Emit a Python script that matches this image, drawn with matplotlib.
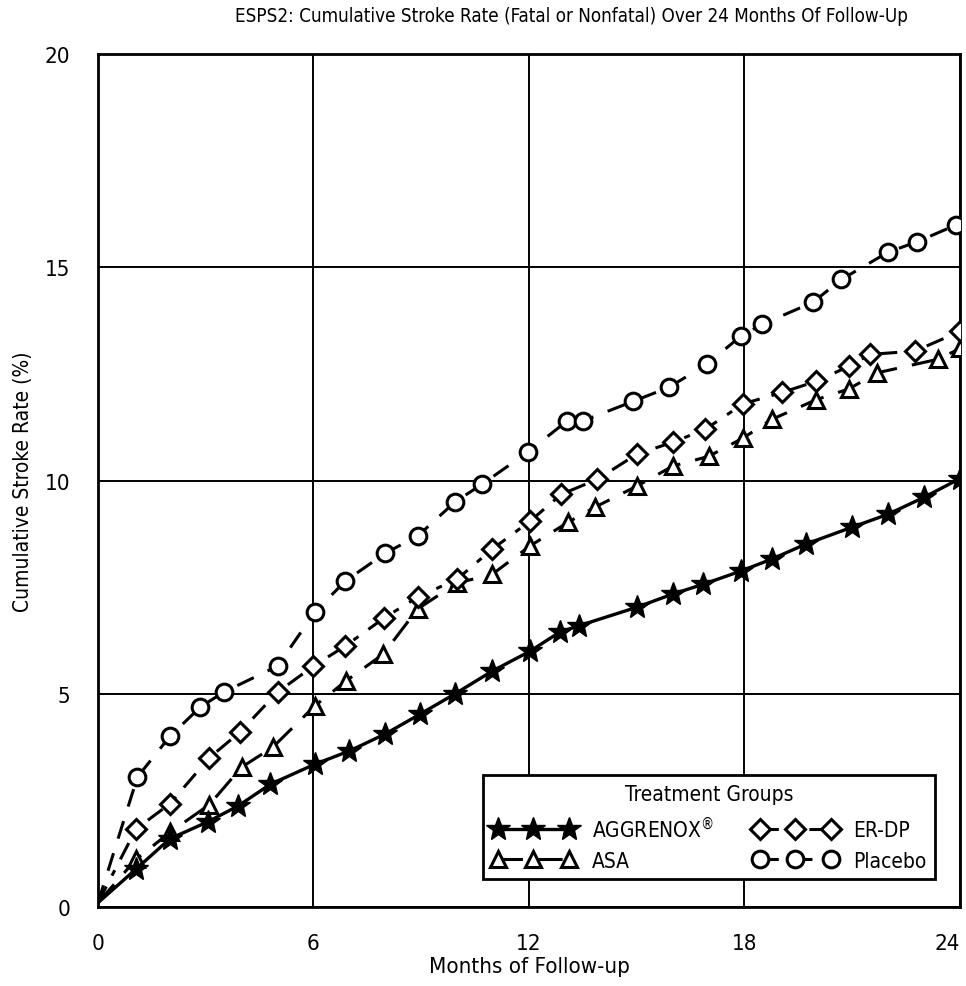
import matplotlib.pyplot as plt
from matplotlib import font_manager

# condensed sans, close to the scanned narrow font
cond = [f for f in font_manager.fontManager.ttflist
        if f.name == 'DejaVu Sans' and f.stretch == 'condensed']
plt.rcParams['font.family'] = ['DejaVu Sans']
if cond:
    plt.rcParams['font.stretch'] = 'condensed'

# data (months, cumulative %)
aggr_x = [0, 1.06, 2.0, 3.06, 3.9, 4.8, 6.04, 7.0, 8.0, 8.96, 9.94, 10.97, 12.03, 12.86, 13.4, 15.0, 16.0, 16.85, 17.9, 18.76, 19.7, 21.0, 21.99, 23.0, 24.0]
aggr_y = [0.1, 0.89, 1.6, 2.0, 2.37, 2.88, 3.35, 3.66, 4.06, 4.52, 5.0, 5.53, 6.0, 6.45, 6.6, 7.03, 7.34, 7.57, 7.88, 8.16, 8.51, 8.91, 9.21, 9.61, 10.05]

asa_x = [0, 1.06, 2.0, 3.1, 4.0, 4.87, 6.04, 6.9, 7.94, 8.9, 10.0, 10.97, 12.03, 13.1, 13.84, 15.0, 16.0, 17.0, 17.96, 18.77, 20.0, 20.9, 21.7, 23.4, 24.0]
asa_y = [0.1, 1.12, 1.75, 2.4, 3.28, 3.75, 4.72, 5.3, 5.93, 6.99, 7.6, 7.8, 8.47, 9.03, 9.38, 9.87, 10.34, 10.57, 11.0, 11.44, 11.9, 12.15, 12.53, 12.85, 13.1]

erdp_x = [0, 1.06, 2.0, 3.1, 3.95, 5.0, 6.0, 6.88, 7.97, 8.9, 10.0, 10.97, 12.03, 12.9, 13.9, 15.0, 16.0, 16.9, 17.96, 19.05, 20.0, 20.9, 21.5, 22.75, 24.0]
erdp_y = [0.1, 1.83, 2.42, 3.5, 4.1, 5.04, 5.65, 6.12, 6.78, 7.27, 7.69, 8.39, 9.05, 9.68, 10.03, 10.62, 10.9, 11.2, 11.8, 12.07, 12.33, 12.68, 12.96, 13.04, 13.5]

plac_x = [0, 1.1, 2.0, 2.85, 3.5, 5.0, 6.04, 6.88, 8.0, 8.9, 9.94, 10.7, 11.97, 13.06, 13.5, 14.9, 15.9, 16.95, 17.9, 18.5, 19.9, 20.7, 22.0, 22.8, 23.9]
plac_y = [0.1, 3.05, 4.0, 4.69, 5.04, 5.65, 6.92, 7.64, 8.3, 8.7, 9.5, 9.92, 10.67, 11.4, 11.4, 11.86, 12.19, 12.73, 13.39, 13.67, 14.18, 14.72, 15.36, 15.6, 16.0]

fig = plt.figure(figsize=(9.66, 9.87), dpi=100)
ax = fig.add_axes([0.1014, 0.080, 0.8924, 0.864])

skip = list(range(1, 25))
ax.plot(aggr_x, aggr_y, color='black', lw=2.4, ls='-', marker='*', ms=18,
        mfc='black', mec='black', markevery=skip, label='AGGRENOX$^{\\circledR}$', zorder=5)
ax.plot(asa_x, asa_y, color='black', lw=2.2, ls=(0, (8, 5)), marker='^', ms=11,
        mfc='white', mec='black', mew=2.2, markevery=skip, label='ASA', zorder=4)
ax.plot(erdp_x, erdp_y, color='black', lw=2.2, ls=(0, (6, 4, 2, 4)), marker='D', ms=10,
        mfc='white', mec='black', mew=2.2, markevery=skip, label='ER-DP', zorder=4)
ax.plot(plac_x, plac_y, color='black', lw=2.2, ls=(0, (6, 5)), marker='o', ms=12,
        mfc='white', mec='black', mew=2.2, markevery=skip, label='Placebo', zorder=4)

ax.set_xlim(0, 24)
ax.set_ylim(0, 20)
ax.set_xticks([0, 6, 12, 18, 24])
ax.set_yticks([0, 5, 10, 15, 20])
ax.grid(True, color='black', lw=1.4)
ax.set_axisbelow(True)
ax.tick_params(length=0, labelsize=16, pad=20)
ax.tick_params(axis='x', pad=19)
ax.get_xticklabels()[-1].set_horizontalalignment('right')
for s in ax.spines.values():
    s.set_linewidth(2)

ax.set_xlabel('Months of Follow-up', fontsize=16, labelpad=2)
ax.set_ylabel('Cumulative Stroke Rate (%)', fontsize=15, labelpad=8)
fig.text(0.592, 0.993, 'ESPS2: Cumulative Stroke Rate (Fatal or Nonfatal) Over 24 Months Of Follow-Up',
         fontsize=13.5, ha='center', va='top')

leg = ax.legend(loc='lower left', bbox_to_anchor=(0.447, 0.033, 0.524, 0.131), mode='expand',
                ncol=2, numpoints=3, title='Treatment Groups', fontsize=15, title_fontsize=15,
                fancybox=False, framealpha=1, edgecolor='black', borderaxespad=0,
                handlelength=4, columnspacing=1.0)
leg.get_frame().set_linewidth(2)

fig.savefig('out.png', dpi=100)
